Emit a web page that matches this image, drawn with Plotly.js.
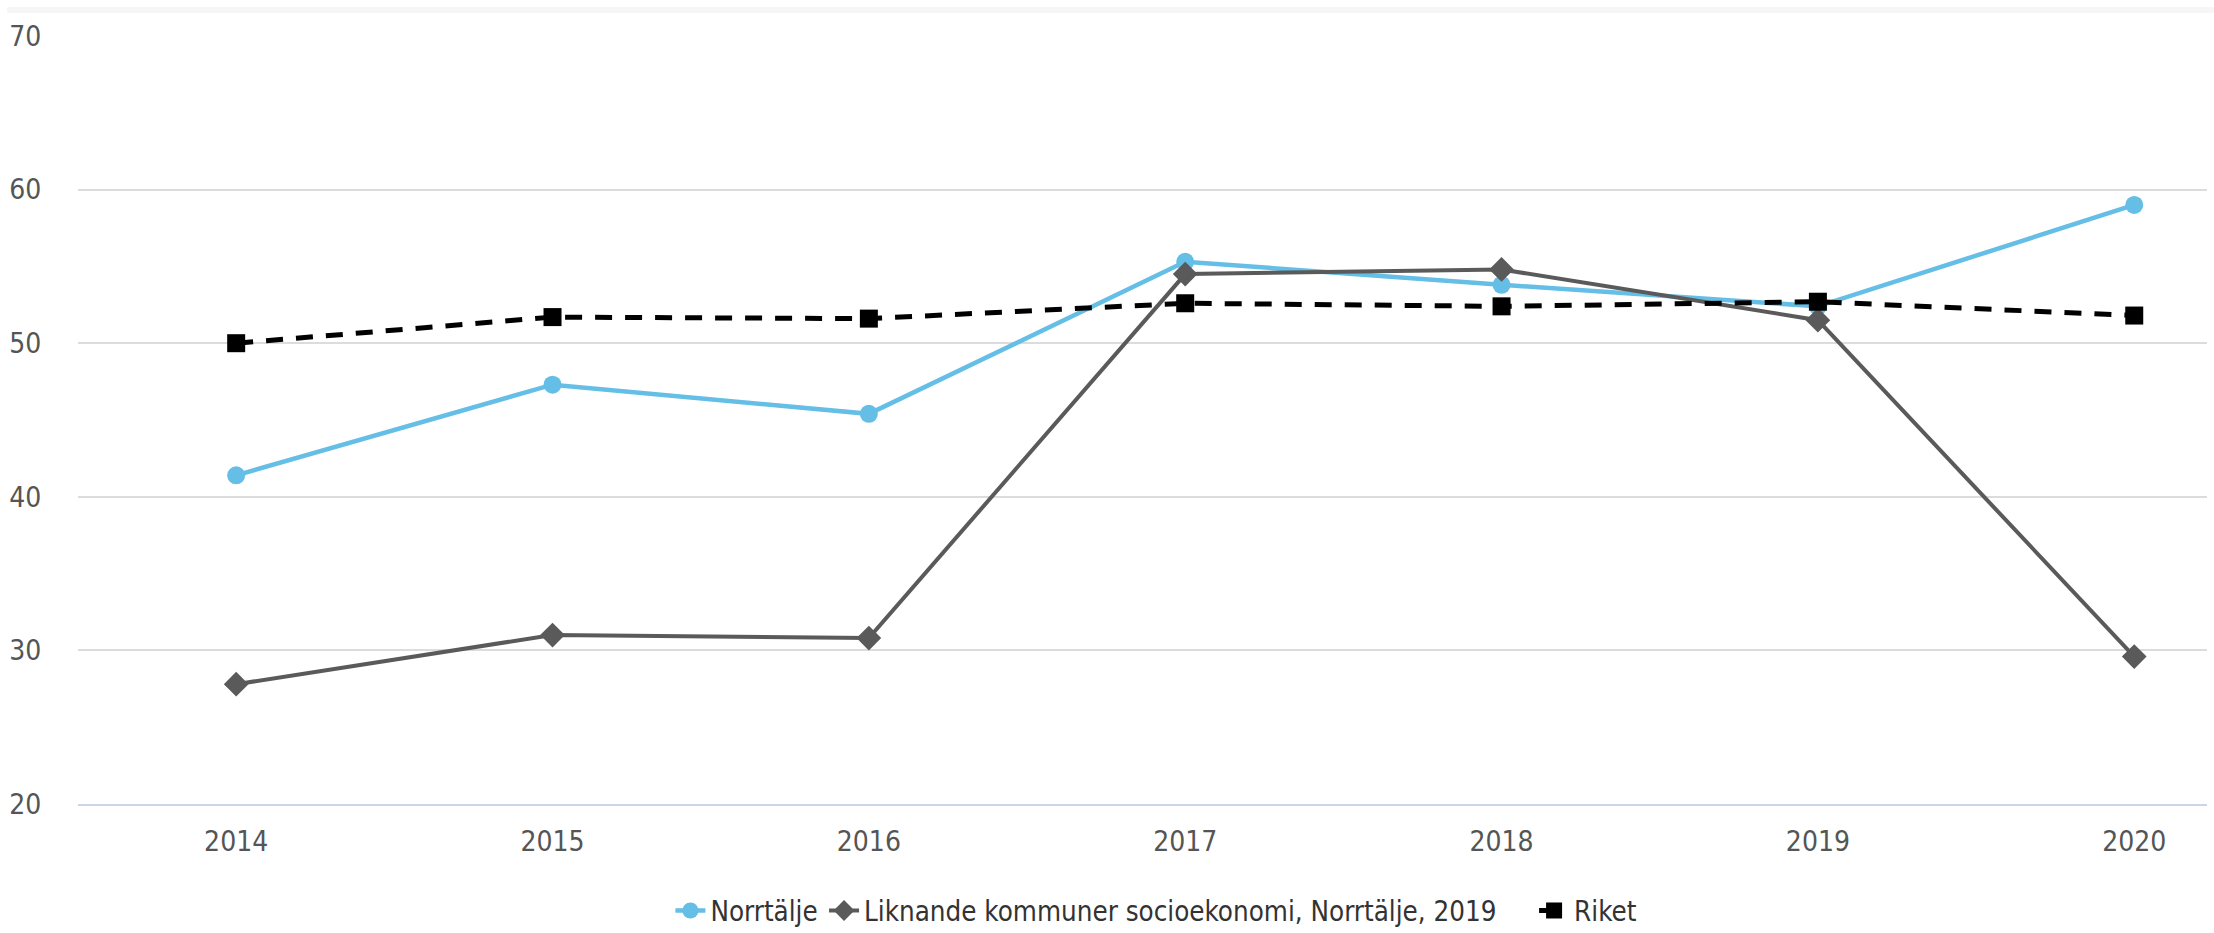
<!DOCTYPE html>
<html>
<head>
<meta charset="utf-8">
<script src="https://cdn.plot.ly/plotly-3.0.1.min.js"></script>
<style>html,body{margin:0;padding:0;background:#fff;}#chart{width:2214px;height:933px;}</style>
</head>
<body>
<div id="chart"></div>
<script>
const years = ['2014', '2015', '2016', '2017', '2018', '2019', '2020'];
const norrtalje = [41.4, 47.3, 45.4, 55.3, 53.8, 52.4, 59.0];
const liknande = [27.8, 31.0, 30.8, 54.5, 54.8, 51.5, 29.6];
const riket = [50.0, 51.7, 51.6, 52.6, 52.4, 52.7, 51.8];
const seriesNames = ['Norrtälje', 'Liknande kommuner socioekonomi, Norrtälje, 2019', 'Riket'];
const yTicks = [20, 30, 40, 50, 60, 70];

const FONT = '"Liberation Sans Narrow", "DejaVu Sans Condensed", "Liberation Sans", sans-serif';

const traces = [
  {
    x: years, y: norrtalje, name: seriesNames[0], type: 'scatter', mode: 'lines+markers',
    legend: 'legend',
    line: {color: '#64bee6', width: 4.5},
    marker: {symbol: 'circle', size: 18, color: '#64bee6'}
  },
  {
    x: years, y: liknande, name: seriesNames[1], type: 'scatter', mode: 'lines+markers',
    legend: 'legend2',
    line: {color: '#5a5a5a', width: 4},
    marker: {symbol: 'diamond', size: 19, color: '#5a5a5a'}
  },
  {
    x: years, y: riket, name: seriesNames[2], type: 'scatter', mode: 'lines+markers',
    legend: 'legend3',
    line: {color: '#000000', width: 5, dash: '17px,13px'},
    marker: {symbol: 'square', size: 18, color: '#000000'}
  }
];

function leg(x) {
  return {
    orientation: 'h', xref: 'container', yref: 'container',
    x: x, xanchor: 'left', y: 0.024, yanchor: 'middle',
    font: {family: FONT, size: 27.5, color: '#333333'},
    itemwidth: 30, bgcolor: 'rgba(0,0,0,0)'
  };
}

const layout = {
  width: 2214, height: 933,
  margin: {l: 78, r: 7, t: 36, b: 129, autoexpand: false},
  paper_bgcolor: '#ffffff', plot_bgcolor: '#ffffff',
  font: {family: FONT, size: 28, color: '#555555'},
  showlegend: true,
  legend: leg(0.3028),
  legend2: leg(0.3722),
  legend3: leg(0.6929),
  xaxis: {
    type: 'category', range: [-0.5, 6.23],
    showgrid: false, zeroline: false,
    showline: true, linecolor: '#ccd6eb', linewidth: 2,
    ticks: 'outside', ticklen: 11, tickcolor: 'rgba(0,0,0,0)',
    tickfont: {family: FONT, size: 28, color: '#555555'}
  },
  yaxis: {
    range: [20, 70], tickvals: yTicks, ticktext: yTicks.map(String),
    showgrid: true, gridcolor: '#dcdcdc', gridwidth: 2,
    zeroline: false, showline: false,
    ticks: 'outside', ticklen: 30, tickcolor: 'rgba(0,0,0,0)',
    tickfont: {family: FONT, size: 28, color: '#555555'}
  },
  shapes: [
    {type: 'rect', xref: 'paper', yref: 'paper', x0: -0.0333, x1: 1.01, y0: 1.030, y1: 1.0378,
     fillcolor: '#f6f6f6', line: {width: 0}, layer: 'below'}
  ]
};

Plotly.newPlot('chart', traces, layout, {displayModeBar: false, staticPlot: true});
</script>
</body>
</html>
